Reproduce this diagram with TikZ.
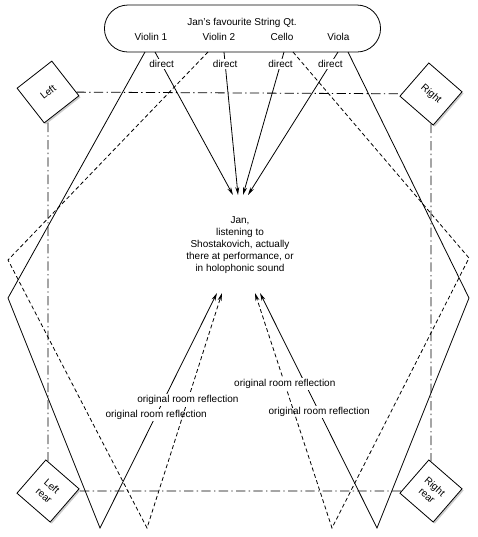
\documentclass[tikz,border=0pt]{standalone}
\usepackage{fontspec}
\setmainfont{Liberation Sans}
\usetikzlibrary{arrows.meta,shapes.misc,shadows}

\tikzset{
  spk/.style={draw, fill=white, minimum size=33pt, inner sep=0pt, align=center,
    drop shadow={shadow xshift=1.2pt, shadow yshift=-1.2pt, opacity=0.4}},
  room/.style={dash pattern=on 7pt off 2.5pt on 1pt off 2.5pt},
  lbl/.style={fill=white, inner sep=1pt},
  snd/.style={-{Stealth[length=6pt,width=3pt]}},
  refl/.style={snd, dash pattern=on 3pt off 2pt},
}

\begin{document}
\begin{tikzpicture}[x=0.75pt,y=0.75pt,yscale=-1,xscale=1,line width=0.6pt,
  font=\fontsize{7.5}{9}\selectfont]
\useasboundingbox (0,0) rectangle (478,537);
% the quartet
\node [draw, rounded rectangle, minimum width=213.75pt, minimum height=35.25pt] (qt) at (242.5,28.5) {};
\node (title) at (242,23) {Jan's favourite String Qt.};
\node (vl1) at (151,37) {Violin 1};
\node (vl2) at (219,37) {Violin 2};
\node (vc) at (282,37) {Cello};
\node (va) at (338.5,37) {Viola};
% the listener
\node [align=center] (jan) at (240,245) {Jan,\\listening to\\Shostakovich, actually\\there at performance, or\\in holophonic sound};
% speakers
\node [spk, rotate=38] (left) at (48,92) {Left};
\node [spk, rotate=-41] (right) at (431,94) {Right};
\node [spk, rotate=-41] (lrear) at (48,491) {Left\\rear};
\node [spk, rotate=-41] (rrear) at (431,491) {Right\\rear};
\draw [room] (left) -- (right);
\draw [room] (right) -- (rrear);
\draw [room] (rrear) -- (lrear);
\draw [room] (lrear) -- (left);
% direct sound
\coordinate (d1) at (155,52);
\coordinate (d2) at (224,52);
\coordinate (d3) at (284,52);
\coordinate (d4) at (338,52);
\coordinate (t1) at (233,195);
\coordinate (t2) at (238,195);
\coordinate (t3) at (243,195);
\coordinate (t4) at (248,195);
\draw [snd] (d1) -- node [lbl, pos=0.085] {direct} (t1);
\draw [snd] (d2) -- node [lbl, pos=0.085] {direct} (t2);
\draw [snd] (d3) -- node [lbl, pos=0.085] {direct} (t3);
\draw [snd] (d4) -- node [lbl, pos=0.085] {direct} (t4);
% reflections
\coordinate (a1) at (145,52);
\coordinate (a2) at (208,52);
\coordinate (a3) at (293,52);
\coordinate (a4) at (348,52);
\coordinate (e1) at (217,293);
\coordinate (e2) at (222,293);
\coordinate (e3) at (255,293);
\coordinate (e4) at (260,293);
\draw [snd] (a1) -- (8,298) -- (100,528) -- node [lbl, pos=0.48] {original room reflection} (e1);
\draw [snd] (a4) -- (469,298) -- (377,528) -- node [lbl, pos=0.494] {original room reflection} (e4);
\draw [refl] (a2) -- (8,260) -- (147,528) -- node [lbl, pos=0.545] {original room reflection} (e2);
\draw [refl] (a3) -- (469,258) -- (332,528) -- node [lbl, pos=0.613] {original room reflection} (e3);
\end{tikzpicture}
\end{document}
